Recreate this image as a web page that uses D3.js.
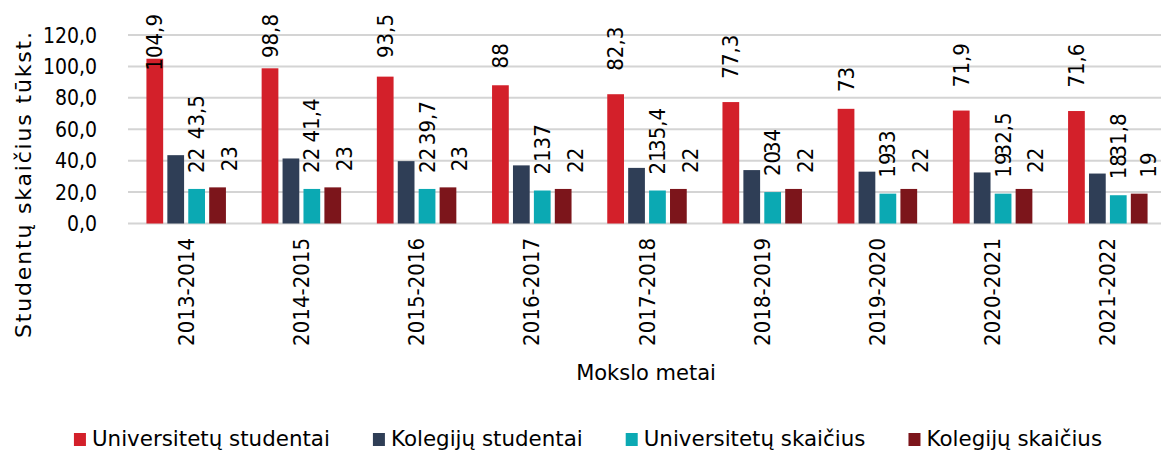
<!DOCTYPE html>
<html>
<head>
<meta charset="utf-8">
<script src="https://cdn.jsdelivr.net/npm/d3@7"></script>
<style>
    body { margin: 0; background: #fff; }
    svg { display: block; }
    text { font-family: "DejaVu Sans Condensed", "DejaVu Sans", sans-serif; fill: #000; }
    text.words { font-family: "DejaVu Sans", sans-serif; }
</style>
</head>
<body>
<div id="chart"></div>
<script>
// Academic years (categories)
var years = ["2013-2014", "2014-2015", "2015-2016", "2016-2017", "2017-2018",
             "2018-2019", "2019-2020", "2020-2021", "2021-2022"];

// Series names, in drawing order
var seriesNames = ["Universitetų studentai", "Kolegijų studentai",
                   "Universitetų skaičius", "Kolegijų skaičius"];

// Values
var uniStudents = [104.9, 98.8, 93.5, 88, 82.3, 77.3, 73, 71.9, 71.6];
var colStudents = [43.5, 41.4, 39.7, 37, 35.4, 34, 33, 32.5, 31.8];
var uniCount = [22, 22, 22, 21, 21, 20, 19, 19, 18];
var colCount = [23, 23, 23, 22, 22, 22, 22, 22, 19];

var yTicks = [0, 20, 40, 60, 80, 100, 120];

var colors = ["#d3202a", "#2f3e56", "#0ba9b3", "#7c151b"];

var width = 1161, height = 452;

var svg = d3.select("#chart")
    .append("svg")
    .attr("width", width)
    .attr("height", height);

var seriesValues = [uniStudents, colStudents, uniCount, colCount];

// Scales
var y = d3.scaleLinear()
    .domain([0, 120])
    .range([223.5, 35]);

var x0 = d3.scaleBand()
    .domain(years)
    .range([128, 1166])
    .paddingInner(0.31)
    .paddingOuter(0.16);

var x1 = d3.scaleBand()
    .domain(d3.range(seriesNames.length))
    .range([0, x0.bandwidth()])
    .paddingInner(0.2);

var fmt = function(v) { return String(v).replace(".", ","); };

// Gridlines
svg.append("g")
    .selectAll("line")
    .data(yTicks)
    .enter()
    .append("line")
    .attr("x1", 128)
    .attr("x2", width)
    .attr("y1", function(d) { return y(d); })
    .attr("y2", function(d) { return y(d); })
    .attr("stroke", "#d4d4d4")
    .attr("stroke-width", 2);

// Y axis tick labels
svg.append("g")
    .selectAll("text")
    .data(yTicks)
    .enter()
    .append("text")
    .attr("x", 97)
    .attr("y", function(d) { return y(d); })
    .attr("dy", "0.36em")
    .attr("text-anchor", "end")
    .style("font-size", "21px")
    .text(function(d) { return d3.format(".1f")(d).replace(".", ","); });

// Bars
var groups = svg.append("g")
    .selectAll("g")
    .data(years)
    .enter()
    .append("g")
    .attr("transform", function(d) { return "translate(" + x0(d) + ",0)"; });

groups.selectAll("rect")
    .data(function(d, i) {
        return seriesValues.map(function(s, k) { return { k: k, v: s[i] }; });
    })
    .enter()
    .append("rect")
    .attr("x", function(d) { return x1(d.k); })
    .attr("y", function(d) { return y(d.v); })
    .attr("width", x1.bandwidth())
    .attr("height", function(d) { return y(0) - y(d.v); })
    .attr("fill", function(d) { return colors[d.k]; });

// Data labels (rotated), offsets mimic the original placement
var labelShift = [0, x1.step(), 0, 12];

groups.selectAll("text.val")
    .data(function(d, i) {
        return seriesValues.map(function(s, k) { return { k: k, v: s[i], year: d }; });
    })
    .enter()
    .append("text")
    .attr("class", "val")
    .style("font-size", "22px")
    .attr("text-anchor", "start")
    .attr("dominant-baseline", "central")
    .text(function(d) { return fmt(d.v); })
    .each(function(d) {
        var len = this.getComputedTextLength();
        var gap = d.k === 0 ? 8 + 0.35 * len : 16;
        var bottom = y(d.v) - gap;
        if (bottom - len < 14) bottom = 14 + len;
        var cx = x1(d.k) + x1.bandwidth() / 2 + labelShift[d.k];
        // keep label inside the picture on the right
        var maxCx = width - 13 - x0(d.year);
        if (cx > maxCx) cx = maxCx;
        d3.select(this).attr("transform", "translate(" + cx + "," + bottom + ") rotate(-90)");
    });

// X tick labels
svg.append("g")
    .selectAll("text")
    .data(years)
    .enter()
    .append("text")
    .attr("transform", function(d) {
        return "translate(" + (x0(d) + x0.bandwidth() / 2) + ",238) rotate(-90)";
    })
    .attr("text-anchor", "end")
    .attr("dominant-baseline", "central")
    .style("font-size", "22px")
    .text(function(d) { return d; });

// Axis titles
svg.append("text")
    .attr("class", "words")
    .attr("transform", "translate(23,185) rotate(-90)")
    .attr("text-anchor", "middle")
    .attr("dominant-baseline", "central")
    .attr("textLength", 306)
    .attr("lengthAdjust", "spacing")
    .style("font-size", "22px")
    .text("Studentų skaičius tūkst.");

svg.append("text")
    .attr("class", "words")
    .attr("x", 646)
    .attr("y", 380)
    .attr("text-anchor", "middle")
    .style("font-size", "21px")
    .text("Mokslo metai");

// Legend
var legend = svg.append("g");
var lx = 0;
seriesNames.forEach(function(name, k) {
    var item = legend.append("g").attr("transform", "translate(" + lx + ",0)");
    item.append("rect")
        .attr("x", 0)
        .attr("y", 433)
        .attr("width", 12)
        .attr("height", 13)
        .attr("fill", colors[k]);
    var t = item.append("text")
        .attr("class", "words")
        .attr("x", 18)
        .attr("y", 446)
        .style("font-size", "21.4px")
        .text(name);
    lx += 18 + t.node().getComputedTextLength() + 43;
});
var legendWidth = lx - 43;
legend.attr("transform", "translate(" + (588 - legendWidth / 2) + ",0)");
</script>
</body>
</html>
